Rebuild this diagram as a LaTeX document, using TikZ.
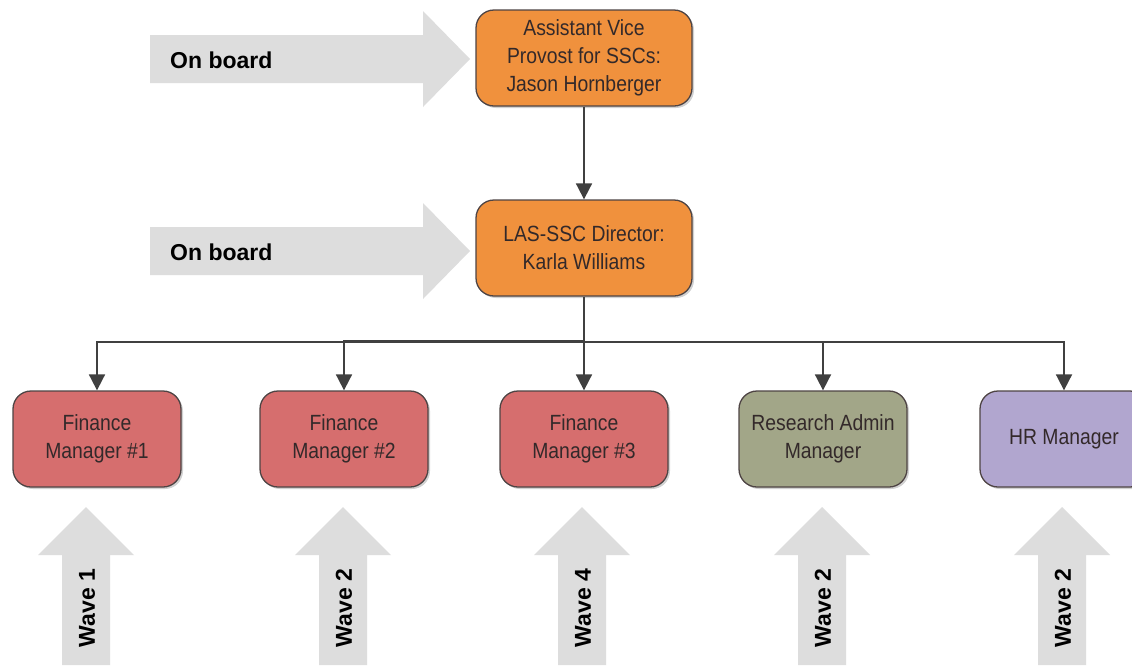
\documentclass[tikz,border=0pt]{standalone}
\usepackage{fontspec}
\setmainfont{Liberation Sans}
\newfontfamily\narrowfont[FakeStretch=0.88]{Liberation Sans}
\usetikzlibrary{arrows.meta,shadows}

\definecolor{bandgray}{HTML}{DDDDDD}
\definecolor{orgfill}{HTML}{F0913D}
\definecolor{finfill}{HTML}{D66E6E}
\definecolor{resfill}{HTML}{A2A688}
\definecolor{hrfill}{HTML}{B1A6CF}
\definecolor{boxline}{HTML}{4E4444}
\definecolor{linkgray}{HTML}{404040}
\definecolor{boxtext}{HTML}{33292A}

\begin{document}
\begin{tikzpicture}[x=1pt,y=-1pt,
  unitbox/.style={draw=boxline, line width=1.3pt, rounded corners=18pt,
    minimum height=96pt, align=center, inner sep=0pt, text=boxtext,
    font=\narrowfont\fontsize{22}{28}\selectfont,
    drop shadow={shadow xshift=2pt, shadow yshift=-2pt, opacity=0.18, fill=black}},
  widebox/.style={unitbox, minimum width=216pt, fill=orgfill},
  staffbox/.style={unitbox, minimum width=168pt},
  link/.style={draw=linkgray, line width=1.8pt,
    -{Triangle[length=16pt,width=16pt]}},
  bus/.style={draw=linkgray, line width=1.8pt},
  bandlabel/.style={font=\bfseries\fontsize{23}{27}\selectfont, inner sep=0pt},
  wavelabel/.style={bandlabel, rotate=90}
]
\useasboundingbox (0,0) rectangle (1132,665);
\clip (0,0) rectangle (1132,665);
\fill[white] (0,0) rectangle (1132,665);

% horizontal "On board" bands
\foreach \cy/\nm in {59/ob1, 251/ob2} {
  \fill[bandgray] (150,\cy-24) -- (423,\cy-24) -- (423,\cy-48) -- (470,\cy)
    -- (423,\cy+48) -- (423,\cy+24) -- (150,\cy+24) -- cycle;
  \node[bandlabel, anchor=west] (\nm) at (170,\cy+1) {On board};
}

% vertical "Wave" bands
\foreach \cx/\lab/\nm in {86/Wave 1/w1, 343/Wave 2/w2, 582/Wave 4/w3,
                          822/Wave 2/w4, 1062/Wave 2/w5} {
  \fill[bandgray] (\cx-24,665) -- (\cx-24,555) -- (\cx-48,555) -- (\cx,507)
    -- (\cx+48,555) -- (\cx+24,555) -- (\cx+24,665) -- cycle;
  \node[wavelabel] (\nm) at (\cx+1,608) {\lab};
}

% organisation boxes
\node[widebox] (avp) at (584,58) {Assistant Vice\\Provost for SSCs:\\Jason Hornberger};
\node[widebox] (dir) at (584,248) {LAS-SSC Director:\\Karla Williams};

\node[staffbox, fill=finfill] (fm1) at (97,439) {Finance\\Manager \#1};
\node[staffbox, fill=finfill] (fm2) at (344,439) {Finance\\Manager \#2};
\node[staffbox, fill=finfill] (fm3) at (584,439) {Finance\\Manager \#3};
\node[staffbox, fill=resfill] (ram) at (823,439) {Research Admin\\Manager};
\node[staffbox, fill=hrfill] (hrm) at (1064,439) {HR Manager};

% reporting lines
\coordinate (junction) at (584,342);
\draw[link] (avp) -- (dir);
\draw[bus] (dir.south) -- (junction);
\draw[link] (junction) -| (fm1.north);
\draw[link] ([yshift=1pt]junction) -| (fm2.north);
\draw[link] (junction) -- (fm3.north);
\draw[link] (junction) -| (ram.north);
\draw[link] (junction) -| (hrm.north);
\end{tikzpicture}
\end{document}
